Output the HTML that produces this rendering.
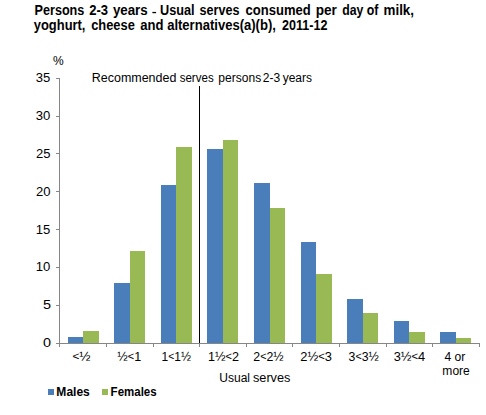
<!DOCTYPE html>
<html><head><meta charset="utf-8"><style>
html,body{margin:0;padding:0;background:#fff;width:486px;height:415px;overflow:hidden}
svg{display:block}
text{font-family:"Liberation Sans",sans-serif;fill:#000}
</style></head><body>
<svg width="486" height="415" viewBox="0 0 486 415" shape-rendering="crispEdges">
<rect x="0" y="0" width="486" height="415" fill="#fff"/>
<rect x="68" y="337" width="15" height="6" fill="#4A7EBB"/>
<rect x="83" y="331" width="16" height="12" fill="#98B954"/>
<rect x="114" y="283" width="16" height="60" fill="#4A7EBB"/>
<rect x="130" y="251" width="15" height="92" fill="#98B954"/>
<rect x="161" y="185" width="15" height="158" fill="#4A7EBB"/>
<rect x="176" y="147" width="16" height="196" fill="#98B954"/>
<rect x="207" y="149" width="16" height="194" fill="#4A7EBB"/>
<rect x="223" y="140" width="15" height="203" fill="#98B954"/>
<rect x="254" y="183" width="16" height="160" fill="#4A7EBB"/>
<rect x="270" y="208" width="15" height="135" fill="#98B954"/>
<rect x="301" y="242" width="15" height="101" fill="#4A7EBB"/>
<rect x="316" y="274" width="16" height="69" fill="#98B954"/>
<rect x="347" y="299" width="16" height="44" fill="#4A7EBB"/>
<rect x="363" y="313" width="15" height="30" fill="#98B954"/>
<rect x="394" y="321" width="15" height="22" fill="#4A7EBB"/>
<rect x="409" y="332" width="16" height="11" fill="#98B954"/>
<rect x="440" y="332" width="16" height="11" fill="#4A7EBB"/>
<rect x="456" y="338" width="15" height="5" fill="#98B954"/>
<rect x="59" y="78" width="1" height="266" fill="#868686"/>
<rect x="56" y="78" width="3" height="1" fill="#868686"/>
<rect x="56" y="116" width="3" height="1" fill="#868686"/>
<rect x="56" y="153" width="3" height="1" fill="#868686"/>
<rect x="56" y="191" width="3" height="1" fill="#868686"/>
<rect x="56" y="229" width="3" height="1" fill="#868686"/>
<rect x="56" y="267" width="3" height="1" fill="#868686"/>
<rect x="56" y="305" width="3" height="1" fill="#868686"/>
<rect x="56" y="343" width="3" height="1" fill="#868686"/>
<rect x="59" y="343" width="421" height="1" fill="#868686"/>
<rect x="59" y="344" width="1" height="3" fill="#868686"/>
<rect x="106" y="344" width="1" height="3" fill="#868686"/>
<rect x="153" y="344" width="1" height="3" fill="#868686"/>
<rect x="199" y="344" width="1" height="3" fill="#868686"/>
<rect x="246" y="344" width="1" height="3" fill="#868686"/>
<rect x="292" y="344" width="1" height="3" fill="#868686"/>
<rect x="339" y="344" width="1" height="3" fill="#868686"/>
<rect x="386" y="344" width="1" height="3" fill="#868686"/>
<rect x="432" y="344" width="1" height="3" fill="#868686"/>
<rect x="479" y="344" width="1" height="3" fill="#868686"/>
<rect x="199" y="86" width="1" height="257" fill="#000"/>
<g shape-rendering="auto">
<text x="34.57" y="14.9" font-size="13.9" font-weight="bold" textLength="49.78" lengthAdjust="spacingAndGlyphs">Persons</text>
<text x="89.16" y="14.9" font-size="13.9" font-weight="bold" textLength="18.87" lengthAdjust="spacingAndGlyphs">2-3</text>
<text x="112.91" y="14.9" font-size="13.9" font-weight="bold" textLength="34.81" lengthAdjust="spacingAndGlyphs">years</text>
<text x="160.04" y="14.9" font-size="13.9" font-weight="bold" textLength="34.55" lengthAdjust="spacingAndGlyphs">Usual</text>
<text x="199.55" y="14.9" font-size="13.9" font-weight="bold" textLength="39.87" lengthAdjust="spacingAndGlyphs">serves</text>
<text x="245.62" y="14.9" font-size="13.9" font-weight="bold" textLength="65.06" lengthAdjust="spacingAndGlyphs">consumed</text>
<text x="315.63" y="14.9" font-size="13.9" font-weight="bold" textLength="21.15" lengthAdjust="spacingAndGlyphs">per</text>
<text x="342.28" y="14.9" font-size="13.9" font-weight="bold" textLength="21.11" lengthAdjust="spacingAndGlyphs">day</text>
<text x="366.72" y="14.9" font-size="13.9" font-weight="bold" textLength="11.67" lengthAdjust="spacingAndGlyphs">of</text>
<text x="383.52" y="14.9" font-size="13.9" font-weight="bold" textLength="30.53" lengthAdjust="spacingAndGlyphs">milk,</text>
<text x="33.79" y="29.7" font-size="13.9" font-weight="bold" textLength="51.67" lengthAdjust="spacingAndGlyphs">yoghurt,</text>
<text x="91.19" y="29.7" font-size="13.9" font-weight="bold" textLength="43.63" lengthAdjust="spacingAndGlyphs">cheese</text>
<text x="140.24" y="29.7" font-size="13.9" font-weight="bold" textLength="23.20" lengthAdjust="spacingAndGlyphs">and</text>
<text x="167.13" y="29.7" font-size="13.9" font-weight="bold" textLength="108.76" lengthAdjust="spacingAndGlyphs">alternatives(a)(b),</text>
<text x="282.10" y="29.7" font-size="13.9" font-weight="bold" textLength="45.34" lengthAdjust="spacingAndGlyphs">2011-12</text>
<text x="91.75" y="82" font-size="12" textLength="84.64" lengthAdjust="spacingAndGlyphs">Recommended</text>
<text x="179.67" y="82" font-size="12" textLength="34.00" lengthAdjust="spacingAndGlyphs">serves</text>
<text x="218.36" y="82" font-size="12" textLength="42.85" lengthAdjust="spacingAndGlyphs">persons</text>
<text x="262.84" y="82" font-size="12" textLength="17.42" lengthAdjust="spacingAndGlyphs">2-3</text>
<text x="282.65" y="82" font-size="12" textLength="29.32" lengthAdjust="spacingAndGlyphs">years</text>
<text x="52.90" y="64.8" font-size="12" textLength="10.67" lengthAdjust="spacingAndGlyphs">%</text>
<text x="35.82" y="82.1" font-size="12" textLength="14.57" lengthAdjust="spacingAndGlyphs">35</text>
<text x="35.82" y="119.96" font-size="12" textLength="14.57" lengthAdjust="spacingAndGlyphs">30</text>
<text x="35.90" y="157.81" font-size="12" textLength="14.49" lengthAdjust="spacingAndGlyphs">25</text>
<text x="35.90" y="195.67" font-size="12" textLength="14.49" lengthAdjust="spacingAndGlyphs">20</text>
<text x="35.82" y="233.53" font-size="12" textLength="14.57" lengthAdjust="spacingAndGlyphs">15</text>
<text x="35.82" y="271.39" font-size="12" textLength="14.57" lengthAdjust="spacingAndGlyphs">10</text>
<text x="42.96" y="309.24" font-size="12" textLength="8.04" lengthAdjust="spacingAndGlyphs">5</text>
<text x="42.94" y="347.1" font-size="12" textLength="8.04" lengthAdjust="spacingAndGlyphs">0</text>
<text x="72.47" y="360.7" font-size="12" textLength="18.08" lengthAdjust="spacingAndGlyphs"><tspan font-size="10.5" dy="-1">&lt;</tspan><tspan dy="1">½</tspan></text>
<text x="117.37" y="360.7" font-size="12" textLength="23.80" lengthAdjust="spacingAndGlyphs">½<tspan font-size="10.5" dy="-1">&lt;</tspan><tspan dy="1">1</tspan></text>
<text x="161.52" y="360.7" font-size="12" textLength="29.36" lengthAdjust="spacingAndGlyphs">1<tspan font-size="10.5" dy="-1">&lt;</tspan><tspan dy="1">1½</tspan></text>
<text x="207.96" y="360.7" font-size="12" textLength="31.05" lengthAdjust="spacingAndGlyphs">1½<tspan font-size="10.5" dy="-1">&lt;</tspan><tspan dy="1">2</tspan></text>
<text x="253.37" y="360.7" font-size="12" textLength="30.26" lengthAdjust="spacingAndGlyphs">2<tspan font-size="10.5" dy="-1">&lt;</tspan><tspan dy="1">2½</tspan></text>
<text x="300.25" y="360.7" font-size="12" textLength="31.65" lengthAdjust="spacingAndGlyphs">2½<tspan font-size="10.5" dy="-1">&lt;</tspan><tspan dy="1">3</tspan></text>
<text x="348.58" y="360.7" font-size="12" textLength="30.21" lengthAdjust="spacingAndGlyphs">3<tspan font-size="10.5" dy="-1">&lt;</tspan><tspan dy="1">3½</tspan></text>
<text x="393.76" y="360.7" font-size="12" textLength="31.46" lengthAdjust="spacingAndGlyphs">3½<tspan font-size="10.5" dy="-1">&lt;</tspan><tspan dy="1">4</tspan></text>
<text x="444.56" y="360.7" font-size="12" textLength="20.83" lengthAdjust="spacingAndGlyphs">4 or</text>
<text x="442.37" y="374.6" font-size="12" textLength="27.44" lengthAdjust="spacingAndGlyphs">more</text>
<text x="219.30" y="382" font-size="12" textLength="30.73" lengthAdjust="spacingAndGlyphs">Usual</text>
<text x="252.97" y="382" font-size="12" textLength="37.40" lengthAdjust="spacingAndGlyphs">serves</text>
<text x="56.39" y="395.7" font-size="12" font-weight="bold" textLength="33.40" lengthAdjust="spacingAndGlyphs">Males</text>
<text x="110.61" y="395.7" font-size="12" font-weight="bold" textLength="46.01" lengthAdjust="spacingAndGlyphs">Females</text>
<rect x="152.4" y="11.9" width="3.7" height="1.3" fill="#000"/>
<rect x="48" y="389" width="6" height="6" fill="#4A7EBB"/>
<rect x="102" y="389" width="6" height="6" fill="#98B954"/>
</g>
</svg>
</body></html>
